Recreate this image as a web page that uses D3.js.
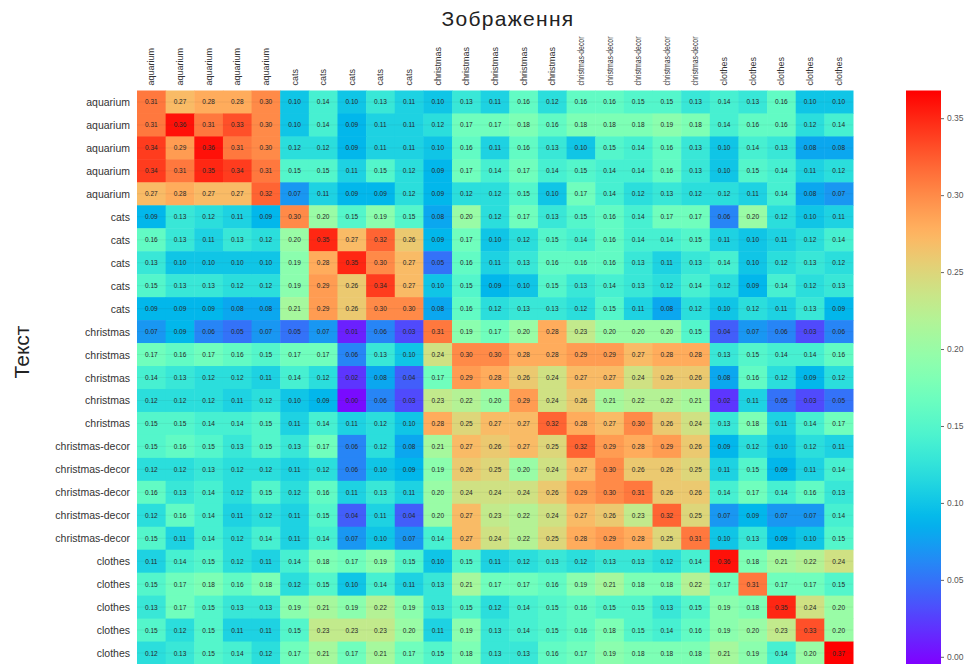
<!DOCTYPE html>
<html>
<head>
<meta charset="utf-8">
<script src="https://cdn.jsdelivr.net/npm/d3@7"></script>
<style>
  html, body { margin: 0; padding: 0; background: #fff; }
  svg { display: block; font-family: "Liberation Sans", Arial, Helvetica, sans-serif; }
</style>
</head>
<body>
<svg id="chart" width="965" height="664"></svg>
<script>
// ---------- data ----------
const title = "Зображення";
const yTitle = "Текст";
const rowLabels = [
  "aquarium","aquarium","aquarium","aquarium","aquarium",
  "cats","cats","cats","cats","cats",
  "christmas","christmas","christmas","christmas","christmas",
  "christmas-decor","christmas-decor","christmas-decor","christmas-decor","christmas-decor",
  "clothes","clothes","clothes","clothes","clothes"
];
const colLabels = rowLabels.slice();
const colorTicks = [0.00, 0.05, 0.10, 0.15, 0.20, 0.25, 0.30, 0.35];
const colorMin = -0.005;
const colorMax = 0.368;

const row01 = [0.31,0.27,0.28,0.28,0.30,0.10,0.14,0.10,0.13,0.11,0.10,0.13,0.11,0.16,0.12,0.16,0.16,0.15,0.15,0.13,0.14,0.13,0.16,0.10,0.10];
const row02 = [0.31,0.36,0.31,0.33,0.30,0.10,0.14,0.09,0.11,0.11,0.12,0.17,0.17,0.18,0.16,0.18,0.18,0.18,0.19,0.18,0.14,0.16,0.16,0.12,0.14];
const row03 = [0.34,0.29,0.36,0.31,0.30,0.12,0.12,0.09,0.11,0.11,0.10,0.16,0.11,0.16,0.13,0.10,0.15,0.14,0.16,0.13,0.10,0.14,0.13,0.08,0.08];
const row04 = [0.34,0.31,0.35,0.34,0.31,0.15,0.15,0.11,0.15,0.12,0.09,0.17,0.14,0.17,0.14,0.15,0.14,0.14,0.16,0.13,0.10,0.15,0.14,0.11,0.12];
const row05 = [0.27,0.28,0.27,0.27,0.32,0.07,0.11,0.09,0.09,0.12,0.09,0.12,0.12,0.15,0.10,0.17,0.14,0.12,0.13,0.12,0.12,0.11,0.14,0.08,0.07];
const row06 = [0.09,0.13,0.12,0.11,0.09,0.30,0.20,0.15,0.19,0.15,0.08,0.20,0.12,0.17,0.13,0.15,0.16,0.14,0.17,0.17,0.06,0.20,0.12,0.10,0.11];
const row07 = [0.16,0.13,0.11,0.13,0.12,0.20,0.35,0.27,0.32,0.26,0.09,0.17,0.10,0.12,0.15,0.14,0.16,0.14,0.14,0.15,0.11,0.10,0.11,0.12,0.14];
const row08 = [0.13,0.10,0.10,0.10,0.10,0.19,0.28,0.35,0.30,0.27,0.05,0.16,0.11,0.13,0.16,0.16,0.16,0.13,0.11,0.13,0.14,0.10,0.12,0.13,0.12];
const row09 = [0.15,0.13,0.13,0.12,0.12,0.19,0.29,0.26,0.34,0.27,0.10,0.15,0.09,0.10,0.15,0.13,0.14,0.13,0.12,0.14,0.12,0.09,0.14,0.12,0.13];
const row10 = [0.09,0.09,0.09,0.08,0.08,0.21,0.29,0.26,0.30,0.30,0.08,0.16,0.12,0.13,0.13,0.12,0.15,0.11,0.08,0.12,0.10,0.12,0.11,0.13,0.09];
const row11 = [0.07,0.09,0.06,0.05,0.07,0.05,0.07,0.01,0.06,0.03,0.31,0.19,0.17,0.20,0.28,0.23,0.20,0.20,0.20,0.15,0.04,0.07,0.06,0.03,0.06];
const row12 = [0.17,0.16,0.17,0.16,0.15,0.17,0.17,0.06,0.13,0.10,0.24,0.30,0.30,0.28,0.28,0.29,0.29,0.27,0.28,0.28,0.13,0.15,0.14,0.14,0.16];
const row13 = [0.14,0.13,0.12,0.12,0.11,0.14,0.12,0.02,0.08,0.04,0.17,0.29,0.28,0.26,0.24,0.27,0.27,0.24,0.26,0.26,0.08,0.16,0.12,0.09,0.12];
const row14 = [0.12,0.12,0.12,0.11,0.12,0.10,0.09,0.00,0.06,0.03,0.23,0.22,0.20,0.29,0.24,0.26,0.21,0.22,0.22,0.21,0.02,0.11,0.05,0.03,0.05];
const row15 = [0.15,0.15,0.14,0.14,0.15,0.11,0.14,0.11,0.12,0.10,0.28,0.25,0.27,0.27,0.32,0.28,0.27,0.30,0.26,0.24,0.13,0.18,0.11,0.14,0.17];
const row16 = [0.15,0.16,0.15,0.13,0.15,0.13,0.17,0.06,0.12,0.08,0.21,0.27,0.26,0.27,0.25,0.32,0.29,0.28,0.29,0.26,0.09,0.12,0.10,0.12,0.11];
const row17 = [0.12,0.12,0.13,0.12,0.12,0.11,0.12,0.06,0.10,0.09,0.19,0.26,0.25,0.20,0.24,0.27,0.30,0.26,0.26,0.25,0.11,0.15,0.09,0.11,0.14];
const row18 = [0.16,0.13,0.14,0.12,0.15,0.12,0.16,0.11,0.13,0.11,0.20,0.24,0.24,0.24,0.26,0.29,0.30,0.31,0.26,0.26,0.14,0.17,0.14,0.16,0.13];
const row19 = [0.12,0.16,0.14,0.11,0.12,0.11,0.15,0.04,0.11,0.04,0.20,0.27,0.23,0.22,0.24,0.27,0.26,0.23,0.32,0.25,0.07,0.09,0.07,0.07,0.14];
const row20 = [0.15,0.11,0.14,0.12,0.14,0.11,0.14,0.07,0.10,0.07,0.14,0.27,0.24,0.22,0.25,0.28,0.29,0.28,0.25,0.31,0.10,0.13,0.09,0.10,0.15];
const row21 = [0.11,0.14,0.15,0.12,0.11,0.14,0.18,0.17,0.19,0.15,0.10,0.15,0.11,0.12,0.13,0.12,0.13,0.13,0.12,0.14,0.36,0.18,0.21,0.22,0.24];
const row22 = [0.15,0.17,0.18,0.16,0.18,0.12,0.15,0.10,0.14,0.11,0.13,0.21,0.17,0.17,0.16,0.19,0.21,0.18,0.18,0.22,0.17,0.31,0.17,0.17,0.15];
const row23 = [0.13,0.17,0.15,0.13,0.13,0.19,0.21,0.19,0.22,0.19,0.13,0.15,0.12,0.14,0.15,0.16,0.15,0.15,0.13,0.15,0.19,0.18,0.35,0.24,0.20];
const row24 = [0.15,0.12,0.15,0.11,0.11,0.15,0.23,0.23,0.23,0.20,0.11,0.19,0.13,0.14,0.15,0.16,0.18,0.15,0.14,0.16,0.19,0.20,0.23,0.33,0.20];
const row25 = [0.12,0.13,0.15,0.14,0.12,0.17,0.21,0.17,0.21,0.17,0.15,0.18,0.13,0.13,0.16,0.17,0.19,0.18,0.18,0.18,0.21,0.19,0.14,0.20,0.37];

const matrix = [row01,row02,row03,row04,row05,row06,row07,row08,row09,row10,
                row11,row12,row13,row14,row15,row16,row17,row18,row19,row20,
                row21,row22,row23,row24,row25];

// ---------- layout ----------
const L = 137, R = 853, T = 90.5, B = 664.5;
const cbX = 906, cbW = 35;

const svg = d3.select("#chart");
const idx = d3.range(colLabels.length);
const x = d3.scaleBand().domain(idx).range([L, R]);
const y = d3.scaleBand().domain(idx).range([T, B]);

// matplotlib "rainbow" colormap
function rainbow(t) {
  t = Math.max(0, Math.min(1, t));
  const r = Math.min(1, Math.abs(2 * t - 0.5));
  const g = Math.sin(Math.PI * t);
  const b = Math.cos(Math.PI * t / 2);
  return d3.rgb(r * 255, g * 255, b * 255).toString();
}
const norm = d3.scaleLinear().domain([colorMin, colorMax]).range([0, 1]).clamp(true);
const color = v => rainbow(norm(v));

const cells = [];
matrix.forEach((row, i) => row.forEach((v, j) => cells.push({i, j, v})));

svg.append("g").selectAll("rect").data(cells).join("rect")
  .attr("x", d => x(d.j))
  .attr("y", d => y(d.i))
  .attr("width", x.bandwidth() + 0.5)
  .attr("height", y.bandwidth() + 0.5)
  .attr("fill", d => color(d.v));

// faint grid through cell centres
const grid = svg.append("g").attr("stroke", "rgba(60,60,60,0.12)").attr("stroke-width", 0.6);
idx.forEach(k => {
  grid.append("line").attr("x1", L).attr("x2", R)
    .attr("y1", y(k) + y.bandwidth() / 2).attr("y2", y(k) + y.bandwidth() / 2);
});

svg.append("g").selectAll("text").data(cells).join("text")
  .attr("x", d => x(d.j) + x.bandwidth() / 2)
  .attr("y", d => y(d.i) + y.bandwidth() / 2)
  .attr("text-anchor", "middle")
  .attr("dominant-baseline", "central")
  .attr("font-size", 6.5)
  .attr("fill", "#262626")
  .text(d => d.v.toFixed(2));

// row labels
svg.append("g").selectAll("text").data(rowLabels).join("text")
  .attr("x", L - 7)
  .attr("y", (d, i) => y(i) + y.bandwidth() / 2)
  .attr("text-anchor", "end")
  .attr("dominant-baseline", "central")
  .attr("font-size", 10.5)
  .attr("fill", "#333")
  .text(d => d);

// column labels
const colText = svg.append("g").selectAll("text").data(colLabels).join("text")
  .attr("transform", (d, i) => `translate(${x(i) + x.bandwidth() / 2},${T - 5}) rotate(-90)`)
  .attr("text-anchor", "start")
  .attr("dominant-baseline", "central")
  .attr("font-size", 9)
  .attr("fill", "#333")
  .text(d => d);
const maxColLabel = 49;
colText.each(function () {
  if (this.getComputedTextLength() > maxColLabel) {
    d3.select(this).attr("textLength", maxColLabel).attr("lengthAdjust", "spacingAndGlyphs");
  }
});

// titles
svg.append("text")
  .attr("x", 508).attr("y", 26)
  .attr("text-anchor", "middle")
  .attr("font-size", 21)
  .attr("letter-spacing", 1.3)
  .attr("fill", "#222")
  .text(title);

svg.append("text")
  .attr("transform", `translate(29,352) rotate(-90)`)
  .attr("text-anchor", "middle")
  .attr("font-size", 21)
  .attr("fill", "#222")
  .text(yTitle);

// colorbar
const cbScale = d3.scaleLinear().domain([colorMin, colorMax]).range([B, T]);
const defs = svg.append("defs");
const grad = defs.append("linearGradient").attr("id", "cbgrad")
  .attr("x1", 0).attr("y1", 1).attr("x2", 0).attr("y2", 0);
d3.range(0, 1.0001, 0.02).forEach(t => {
  grad.append("stop").attr("offset", t).attr("stop-color", rainbow(t));
});
svg.append("rect")
  .attr("x", cbX).attr("y", T).attr("width", cbW).attr("height", B - T)
  .attr("fill", "url(#cbgrad)");

const cbAxis = d3.axisRight(cbScale).tickValues(colorTicks).tickFormat(d3.format(".2f")).tickSize(3).tickPadding(3);
const cbG = svg.append("g").attr("transform", `translate(${cbX + cbW},0)`).call(cbAxis);
cbG.select(".domain").remove();
cbG.selectAll(".tick line").attr("stroke", "#666");
cbG.selectAll(".tick text").attr("font-size", 8.5).attr("fill", "#555")
  .attr("font-family", "Liberation Sans, Arial, sans-serif");
</script>
</body>
</html>
